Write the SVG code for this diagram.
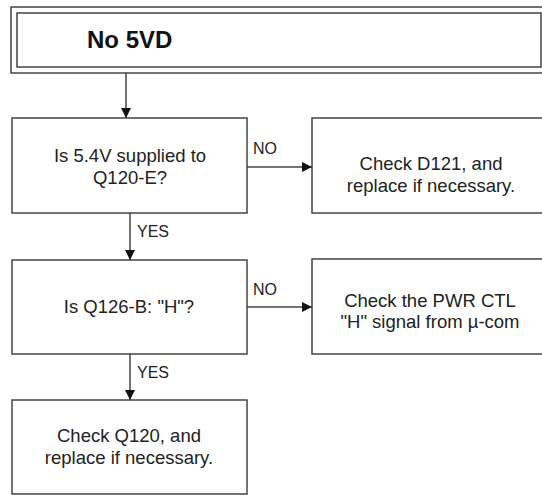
<svg xmlns="http://www.w3.org/2000/svg" width="542" height="495" viewBox="0 0 542 495">
<defs>
<style>
.box{fill:#fff;stroke:#444;stroke-width:1.5}
.t{font-family:"Liberation Sans",Arial,sans-serif;font-size:18.5px;fill:#222;text-anchor:middle}
.lbl{font-family:"Liberation Sans",Arial,sans-serif;font-size:16px;fill:#222}
.ttl{font-family:"Liberation Sans",Arial,sans-serif;font-size:24px;font-weight:bold;fill:#111}
.ln{stroke:#444;stroke-width:1.5;fill:none}
</style>
<marker id="ah" viewBox="0 0 10 10" refX="10" refY="5" markerWidth="10" markerHeight="10" markerUnits="userSpaceOnUse" orient="auto">
<path d="M0,0 L10,5 L0,10 z" fill="#111"/>
</marker>
</defs>
<rect width="542" height="495" fill="#fff"/>
<g id="title">
<rect class="box" x="11" y="7" width="545" height="66"/>
<rect class="box" x="17" y="13" width="524" height="54"/>
<text class="ttl" x="87" y="48">No 5VD</text>
</g>
<g id="q1">
<rect class="box" x="12" y="118" width="235" height="95"/>
<text class="t" x="130" y="162">Is 5.4V supplied to</text>
<text class="t" x="130" y="184">Q120-E?</text>
</g>
<g id="d121">
<rect class="box" x="312" y="118" width="240" height="95"/>
<text class="t" x="431" y="170">Check D121, and</text>
<text class="t" x="431" y="192">replace if necessary.</text>
</g>
<g id="q2">
<rect class="box" x="12" y="260" width="235" height="94"/>
<text class="t" x="129" y="313">Is Q126-B: "H"?</text>
</g>
<g id="pwr">
<rect class="box" x="312" y="259" width="240" height="95"/>
<text class="t" x="430" y="307">Check the PWR CTL</text>
<text class="t" x="430" y="328">"H" signal from µ-com</text>
</g>
<g id="q120">
<rect class="box" x="12" y="400" width="235" height="94"/>
<text class="t" x="129" y="442">Check Q120, and</text>
<text class="t" x="129" y="464">replace if necessary.</text>
</g>
<g id="connectors">
<line class="ln" x1="126" y1="73" x2="126" y2="118" marker-end="url(#ah)"/>
<line class="ln" x1="247" y1="167" x2="312" y2="167" marker-end="url(#ah)"/>
<line class="ln" x1="130" y1="213" x2="130" y2="260" marker-end="url(#ah)"/>
<line class="ln" x1="247" y1="307" x2="312" y2="307" marker-end="url(#ah)"/>
<line class="ln" x1="130" y1="354" x2="130" y2="400" marker-end="url(#ah)"/>
<text class="lbl" x="253" y="154">NO</text>
<text class="lbl" x="137" y="237">YES</text>
<text class="lbl" x="253" y="295">NO</text>
<text class="lbl" x="137" y="378">YES</text>
</g>
</svg>
